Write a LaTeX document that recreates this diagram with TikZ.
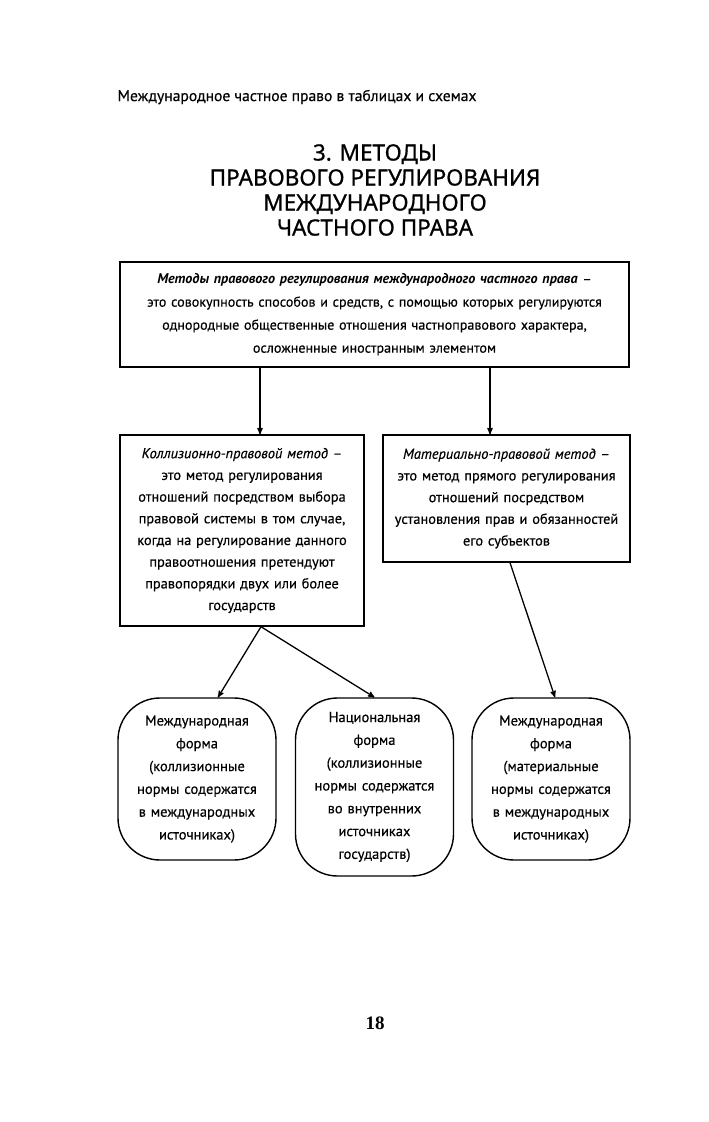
\documentclass[tikz,border=0pt]{standalone}
\usepackage{fontspec}
\setmainfont{PT Sans}[UprightFeatures={FakeBold=0.35},ItalicFeatures={FakeBold=0.35}]
\newfontface\titlefont{Noto Sans}[FakeBold=0.8]
\newfontfamily\pagefont{Liberation Serif}
\usetikzlibrary{arrows,positioning}

\begin{document}
\begin{tikzpicture}[x=1pt,y=-1pt,->,>=stealth',line width=1.3pt]
  \tikzstyle{every node}=[inner sep=0pt,align=center]
  \tikzstyle{defbox}=[draw,line width=1.4pt,font=\fontsize{14.4}{21.7}\selectfont]
  \tikzstyle{formbox}=[draw,line width=1.4pt,rounded corners=42pt,minimum width=158pt,
    text width=145pt,font=\fontsize{14.5}{22.8}\selectfont]

  \useasboundingbox[fill=white] (0,0) rectangle (709,1122);

  \node[font=\fontsize{15.6}{18}\selectfont,anchor=west] (head) at (117,97)
    {Международное частное право в таблицах и схемах};
  \node[font=\titlefont\fontsize{22.5}{25}\selectfont] (title) at (375,190)
    {3. МЕТОДЫ\\ПРАВОВОГО РЕГУЛИРОВАНИЯ\\МЕЖДУНАРОДНОГО\\ЧАСТНОГО ПРАВА};

  \node[defbox,line width=2.6pt,minimum width=509pt,minimum height=105pt,text width=495pt,
    font=\fontsize{14.1}{23}\selectfont] (def) at (374.5,314.5)
    {\textbf{\textit{Методы правового регулирования международного частного права}} --\\
     это совокупность способов и средств, с помощью которых регулируются\\
     однородные общественные отношения частноправового характера,\\
     осложненные иностранным элементом};

  \node[defbox,minimum width=244pt,minimum height=191pt,text width=235pt] (coll) at (242,530.5)
    {\textit{Коллизионно-правовой метод} --\\
     это метод регулирования\\
     отношений посредством выбора\\
     правовой системы в том случае,\\
     когда на регулирование данного\\
     правоотношения претендуют\\
     правопорядки двух или более\\
     государств};
  \node[defbox,minimum width=247pt,minimum height=127pt,text width=238pt] (mat) at (506.5,498.5)
    {\textit{Материально-правовой метод} --\\
     это метод прямого регулирования\\
     отношений посредством\\
     установления прав и обязанностей\\
     его субъектов};

  \node[formbox,minimum height=162pt] (intcoll) at (197,779)
    {Международная\\форма\\(коллизионные\\нормы содержатся\\в международных\\источниках)};
  \node[formbox,minimum height=178pt] (nat) at (374.5,787)
    {Национальная\\форма\\(коллизионные\\нормы содержатся\\во внутренних\\источниках\\государств)};
  \node[formbox,minimum height=162pt] (intmat) at (551,779)
    {Международная\\форма\\(материальные\\нормы содержатся\\в международных\\источниках)};

  \node[font=\pagefont\bfseries\fontsize{19}{22}\selectfont] (page) at (375,1023) {18};

  % arrows
  \draw ([xshift=-114.5pt]def.south) -- ([xshift=18pt]coll.north);
  \draw ([xshift=115.5pt]def.south) -- ([xshift=-16.5pt]mat.north);
  \draw ([xshift=19pt]coll.south) -- ([xshift=21pt]intcoll.north);
  \draw ([xshift=19pt]coll.south) -- (nat.north);
  \draw ([xshift=3.5pt]mat.south) -- ([xshift=4pt]intmat.north);
\end{tikzpicture}
\end{document}
